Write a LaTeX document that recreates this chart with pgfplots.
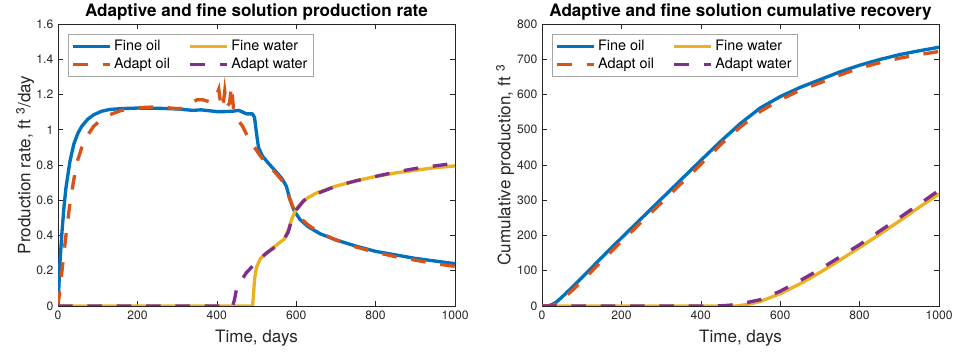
\documentclass[border=0pt]{standalone}
\usepackage{pgfplots}
\pgfplotsset{compat=1.18}
\usepackage{fontspec}
\setmainfont{TeX Gyre Heros}
\definecolor{mblue}{rgb}{0,0.447,0.741}
\definecolor{morange}{rgb}{0.85,0.325,0.098}
\definecolor{myellow}{rgb}{0.929,0.694,0.125}
\definecolor{mpurple}{rgb}{0.494,0.184,0.556}
\definecolor{axgray}{rgb}{0.15,0.15,0.15}

\pgfplotsset{
  every axis title shift=0pt,
  mstyle/.style={
    scale only axis, width=297.75pt, height=211.5pt, anchor=south west,
    xmin=0, xmax=1000, xtick={0,200,...,1000},
    /pgf/number format/1000 sep={},
    /pgf/number format/assume math mode=true,
    tick align=inside, major tick length=3.5pt,
    axis line style={axgray, line width=0.4pt},
    every tick/.style={axgray, line width=0.4pt},
    tick label style={font=\fontsize{9.1}{11}\selectfont, text=axgray},
    label style={font=\fontsize{12.8}{15}\selectfont, text=axgray},
    title style={font=\bfseries\fontsize{12.8}{15}\selectfont, at={(axis description cs:0.5,1.025)}, anchor=base},
    x label style={at={(axis description cs:0.5,-0.113)}, anchor=center},
    legend columns=2,
    legend cell align=left,
    legend style={at={(axis description cs:0.025,0.965)}, anchor=north west,
      draw=gray!70, line width=0.4pt, fill=white,
      font=\fontsize{10.8}{14}\selectfont, text=black,
      /tikz/every even column/.append style={column sep=12pt},
      inner sep=2.5pt},
    legend image code/.code={\draw[#1] (0pt,0pt) -- (27.5pt,0pt);},
    solidln/.style={line width=2.5pt, line join=round},
    dashln/.style={line width=2.5pt, dash pattern=on 11pt off 11pt},
  }
}

\begin{document}
\begin{tikzpicture}
\useasboundingbox (0,0) rectangle (726.75pt,264pt);
\begin{axis}[mstyle, at={(43.5pt,34.5pt)},
  ymin=0, ymax=1.6, ytick={0,0.2,...,1.6},
  yticklabels={0,0.2,0.4,0.6,0.8,1,1.2,1.4,1.6},
  title={Adaptive and fine solution production rate},
  xlabel={Time, days},
  ylabel={Production rate, ft \textsuperscript{3}/day},
  y label style={at={(axis description cs:-0.083,0.5)}, anchor=center},
]
\addplot[solidln, mblue] table {
0 0
2 0.1
5 0.25
10 0.42
15 0.56
20 0.67
30 0.82
40 0.92
50 0.98
60 1.02
75 1.06
90 1.085
110 1.105
130 1.115
160 1.12
200 1.123
250 1.122
300 1.118
330 1.112
340 1.11
360 1.113
380 1.108
400 1.103
420 1.103
440 1.105
455 1.11
465 1.1
475 1.09
490 1.09
495 1.07
500 0.98
505 0.9
515 0.85
530 0.81
550 0.76
565 0.72
575 0.68
585 0.6
595 0.54
610 0.49
630 0.45
660 0.41
700 0.375
750 0.34
800 0.31
850 0.29
900 0.27
950 0.255
1000 0.24
};
\addlegendentry{Fine oil}
\addplot[solidln, myellow] table {
0 0
490 0
492 0.05
495 0.15
500 0.22
510 0.27
530 0.31
550 0.345
570 0.38
580 0.43
590 0.5
600 0.55
615 0.59
630 0.615
650 0.64
700 0.68
750 0.71
800 0.735
850 0.755
900 0.77
950 0.785
1000 0.795
};
\addlegendentry{Fine water}
\addplot[dashln, morange] table {
0 0
5 0.1
10 0.2
15 0.3
20 0.4
30 0.58
40 0.72
50 0.83
60 0.9
75 0.97
90 1.02
110 1.06
130 1.085
160 1.11
200 1.125
250 1.13
300 1.12
320 1.12
335 1.15
350 1.17
365 1.17
380 1.16
390 1.16
400 1.2
405 1.23
410 1.14
415 1.12
420 1.22
425 1.13
432 1.15
437 1.25
442 1.12
448 1.08
455 1.05
465 1.02
480 0.95
495 0.9
510 0.85
530 0.8
550 0.75
565 0.71
575 0.66
585 0.6
595 0.54
610 0.5
630 0.46
660 0.415
700 0.375
750 0.335
800 0.305
850 0.28
900 0.26
950 0.24
1000 0.225
};
\addlegendentry{Adapt oil}
\addplot[dashln, mpurple] table {
0 0
440 0
445 0.04
450 0.1
460 0.14
475 0.19
500 0.25
525 0.3
550 0.34
570 0.38
580 0.42
590 0.5
600 0.545
620 0.6
650 0.635
700 0.68
750 0.71
800 0.735
850 0.76
900 0.78
950 0.795
1000 0.81
};
\addlegendentry{Adapt water}
\end{axis}

\begin{axis}[mstyle, at={(406.5pt,34.5pt)},
  ymin=0, ymax=800, ytick={0,100,...,800},
  title={Adaptive and fine solution cumulative recovery},
  xlabel={Time, days},
  ylabel={Cumulative production, ft \textsuperscript{3}},
  y label style={at={(axis description cs:-0.093,0.5)}, anchor=center},
]
\addplot[solidln, mblue] table {
0 0
15 0
25 4
36 11
50 25
75 52
100 80
150 137
200 193
250 248
300 303
350 358
400 413
450 467
500 518
550 562
600 594
650 620
700 642
750 664
800 683
850 699
900 713
950 724
1000 734
};
\addlegendentry{Fine oil}
\addplot[solidln, myellow] table {
0 0
490 0
520 5
550 13
600 35
650 63
700 95
750 130
800 166
850 203
900 241
950 280
1000 318
};
\addlegendentry{Fine water}
\addplot[dashln, morange] table {
0 0
20 0
30 3
50 18
75 43
100 70
150 127
200 183
250 238
300 292
350 347
400 402
450 458
500 508
550 552
600 585
650 612
700 633
750 655
800 675
850 690
900 703
950 713
1000 722
};
\addlegendentry{Adapt oil}
\addplot[dashln, mpurple] table {
0 0
440 0
470 2
500 6
550 18
600 42
650 72
700 104
750 139
800 174
850 212
900 250
950 289
1000 328
};
\addlegendentry{Adapt water}
\end{axis}
\end{tikzpicture}
\end{document}
